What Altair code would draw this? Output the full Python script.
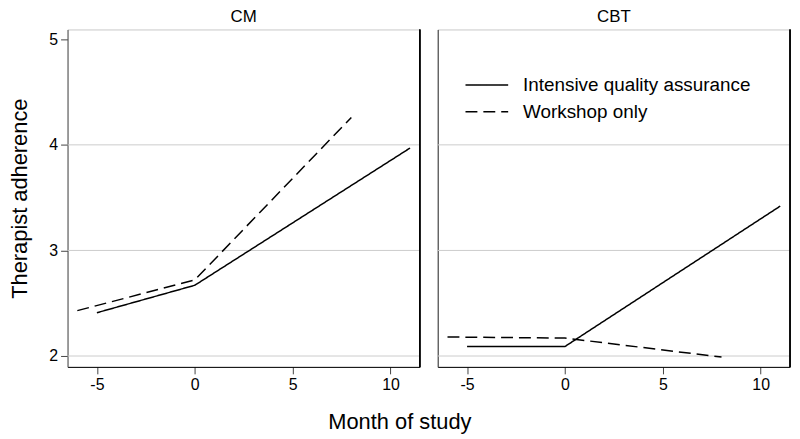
import altair as alt
import pandas as pd

panels = ["CM", "CBT"]
groups = ["Intensive quality assurance", "Workshop only"]

cm_iqa_x = [-5, 0, 11]
cm_iqa_y = [2.41, 2.67, 3.97]
cm_ws_x = [-6, 0, 8]
cm_ws_y = [2.43, 2.72, 4.26]

cbt_iqa_x = [-5, 0, 11]
cbt_iqa_y = [2.09, 2.09, 3.42]
cbt_ws_x = [-6, 0, 8]
cbt_ws_y = [2.18, 2.17, 1.99]

x_ticks = [-5, 0, 5, 10]
y_ticks = [2, 3, 4, 5]
grid_vals = [2, 3, 4]

rows = []
for panel, series in [
    ("CM", [(groups[0], cm_iqa_x, cm_iqa_y), (groups[1], cm_ws_x, cm_ws_y)]),
    ("CBT", [(groups[0], cbt_iqa_x, cbt_iqa_y), (groups[1], cbt_ws_x, cbt_ws_y)]),
]:
    for g, xs, ys in series:
        for i, (x, y) in enumerate(zip(xs, ys)):
            rows.append({"panel": panel, "group": g, "month": x, "adh": y, "order": i})
df = pd.DataFrame(rows)
grid_df = pd.DataFrame({"g": grid_vals})

FONT = "Liberation Sans"
xscale = alt.Scale(domain=[-6.5, 11.5], nice=False, zero=False)
yscale = alt.Scale(domain=[1.897, 5.093], nice=False, zero=False)

W, H = 355, 340
LABEL_EXPR = "'' + datum.value"


def panel_chart(name, first):
    sub = df[df.panel == name]
    if first:
        yaxis = alt.Axis(values=y_ticks, title="Therapist adherence",
                         labelExpr=LABEL_EXPR, domainColor="#555")
    else:
        yaxis = alt.Axis(values=y_ticks, title=None, labels=False, ticks=False,
                         domainColor="#333")
    xaxis = alt.Axis(values=x_ticks, title=None, labelExpr=LABEL_EXPR)
    lines = alt.Chart(sub).mark_line(color="black", strokeWidth=1.5).encode(
        x=alt.X("month:Q", scale=xscale, axis=xaxis),
        y=alt.Y("adh:Q", scale=yscale, axis=yaxis),
        strokeDash=alt.StrokeDash("group:N", scale=alt.Scale(
            domain=groups, range=[[1, 0], [12, 6]]),
            legend=alt.Legend(
                title=None, orient="none", legendX=400, legendY=46,
                labelFontSize=19, labelFont=FONT, labelColor="black",
                symbolType="stroke", symbolSize=1850, symbolStrokeWidth=1.5,
                symbolStrokeColor="black", labelOffset=14, rowPadding=7,
                clipHeight=20, labelLimit=400,
            )),
        order="order:Q",
        detail="group:N",
    )
    grid = alt.Chart(grid_df).mark_rule(color="#cccccc", strokeWidth=1).encode(
        y=alt.Y("g:Q", scale=yscale, axis=yaxis)
    )
    right = alt.Chart(grid_df).mark_rule(color="black", strokeWidth=1.2).encode(
        x=alt.value(W), y=alt.value(0), y2=alt.value(H)
    )
    return alt.layer(grid, lines, right).properties(
        width=W, height=H,
        title=alt.TitleParams(name, fontSize=17, fontWeight="normal", font=FONT,
                              color="black", offset=3),
    )


chart = alt.hconcat(panel_chart("CM", True), panel_chart("CBT", False), spacing=15).properties(
    padding={"top": -3, "left": 0, "right": 0, "bottom": 0},
    title=alt.TitleParams("Month of study", orient="bottom", anchor="middle",
                          fontSize=22, fontWeight="normal", font=FONT,
                          color="black", offset=19),
).configure(font=FONT).configure_view(stroke="#c8c8c8", strokeWidth=1).configure_axis(
    labelFont=FONT, titleFont=FONT, grid=False, labelFontSize=16,
    labelColor="black", titleColor="black", tickSize=7, tickColor="#444",
    titleFontSize=22, titleFontWeight="normal",
).configure_axisX(
    domainColor="black", labelPadding=3,
).configure_axisY(
    titlePadding=17, labelPadding=3,
).configure_legend(labelFont=FONT)

chart.save("out.html", embed_options={"renderer": "svg", "actions": False})
